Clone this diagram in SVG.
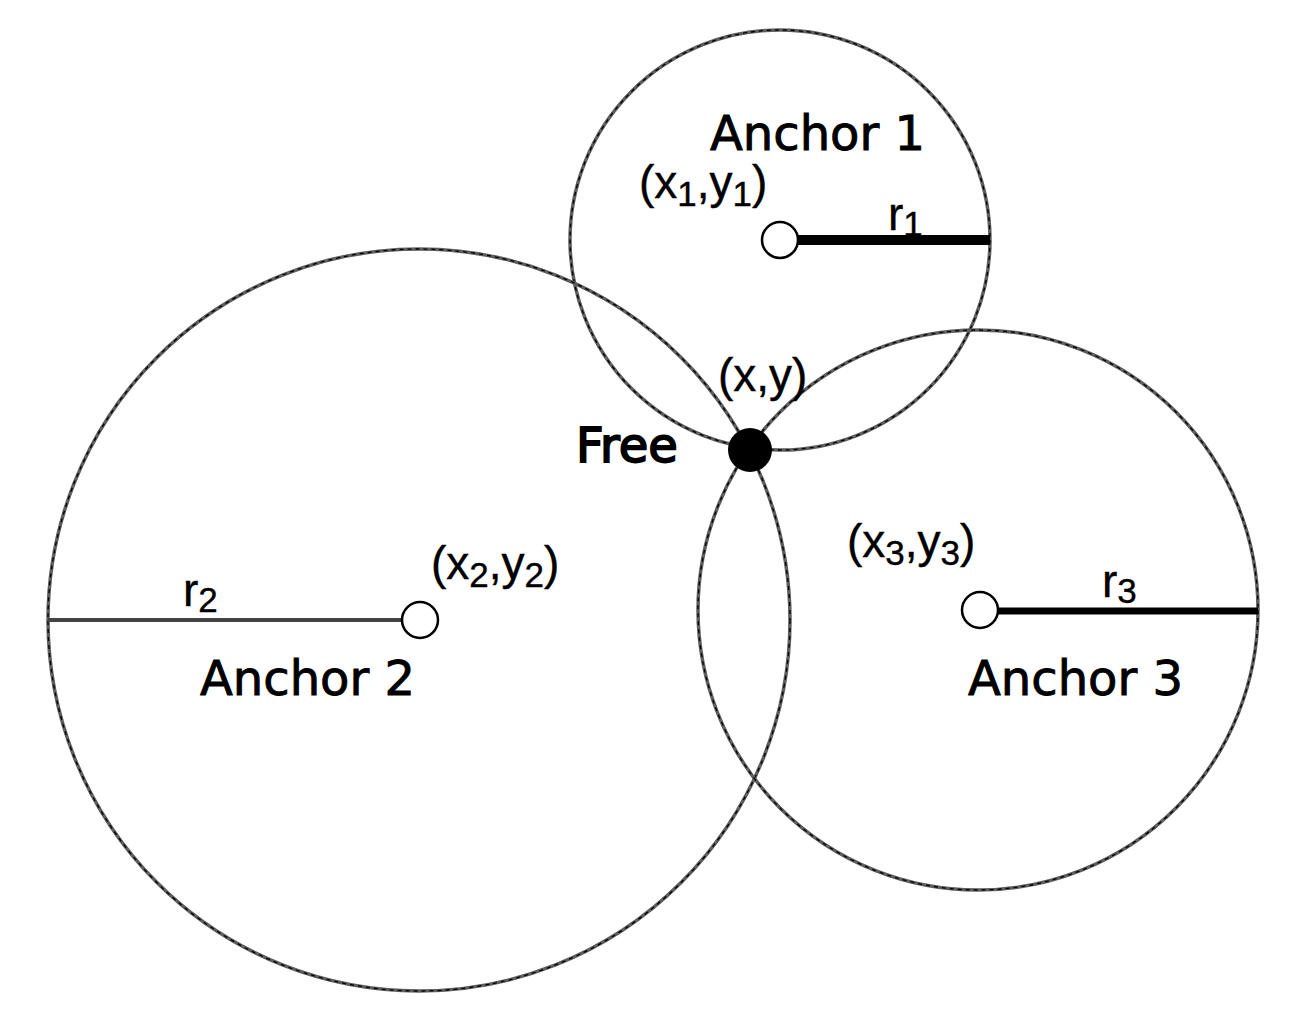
<svg xmlns="http://www.w3.org/2000/svg" width="1311" height="1022" viewBox="0 0 1311 1022">
<style>
.ring{fill:none;stroke:#5e5e5e;stroke-width:3.5}
.ringd{fill:none;stroke:#000;stroke-width:1.3;stroke-dasharray:4 4}
.anchor{fill:#fff;stroke:#000;stroke-width:2.5}
.big{font-family:"DejaVu Sans",sans-serif;font-size:48px;fill:#000;stroke:#000;stroke-width:0.9}
.lab{font-family:"Liberation Sans",Arial,sans-serif;font-size:46px;fill:#000;stroke:#000;stroke-width:0.4}
.sub{font-size:35px}
</style>
<rect width="1311" height="1022" fill="#fff"/>
<g id="range-circles">
<circle class="ring" cx="780" cy="240" r="210"/>
<circle class="ringd" cx="780" cy="240" r="210"/>
<circle class="ring" cx="419" cy="620" r="371"/>
<circle class="ringd" cx="419" cy="620" r="371"/>
<circle class="ring" cx="978" cy="610" r="280"/>
<circle class="ringd" cx="978" cy="610" r="280"/>
</g>
<g id="connectors">
<line x1="798" y1="240" x2="990" y2="240" stroke="#000" stroke-width="10"/>
<line x1="48" y1="620" x2="402" y2="620" stroke="#444" stroke-width="4"/>
<line x1="998" y1="611" x2="1258" y2="611" stroke="#000" stroke-width="7"/>
</g>
<g id="anchor1">
<circle class="anchor" cx="780" cy="240" r="18"/>
<text class="big" x="710" y="150">Anchor 1</text>
<text class="lab" x="639" y="198">(x<tspan class="sub" dy="8">1</tspan><tspan dy="-8">,y</tspan><tspan class="sub" dy="8">1</tspan><tspan dy="-8">)</tspan></text>
<text class="lab" x="888" y="230">r<tspan class="sub" dy="6">1</tspan></text>
</g>
<g id="anchor2">
<circle class="anchor" cx="420" cy="620" r="18"/>
<text class="big" x="200" y="695">Anchor 2</text>
<text class="lab" x="431" y="579">(x<tspan class="sub" dy="8">2</tspan><tspan dy="-8">,y</tspan><tspan class="sub" dy="8">2</tspan><tspan dy="-8">)</tspan></text>
<text class="lab" x="183" y="606">r<tspan class="sub" dy="6">2</tspan></text>
</g>
<g id="anchor3">
<circle class="anchor" cx="980" cy="610" r="18"/>
<text class="big" x="968" y="695">Anchor 3</text>
<text class="lab" x="847" y="557">(x<tspan class="sub" dy="8">3</tspan><tspan dy="-8">,y</tspan><tspan class="sub" dy="8">3</tspan><tspan dy="-8">)</tspan></text>
<text class="lab" x="1102" y="597">r<tspan class="sub" dy="6">3</tspan></text>
</g>
<g id="free">
<circle cx="750" cy="450" r="22" fill="#000"/>
<text class="big" x="576" y="462" style="stroke-width:1.8">Free</text>
<text class="lab" x="718" y="391">(x,y)</text>
</g>
</svg>
